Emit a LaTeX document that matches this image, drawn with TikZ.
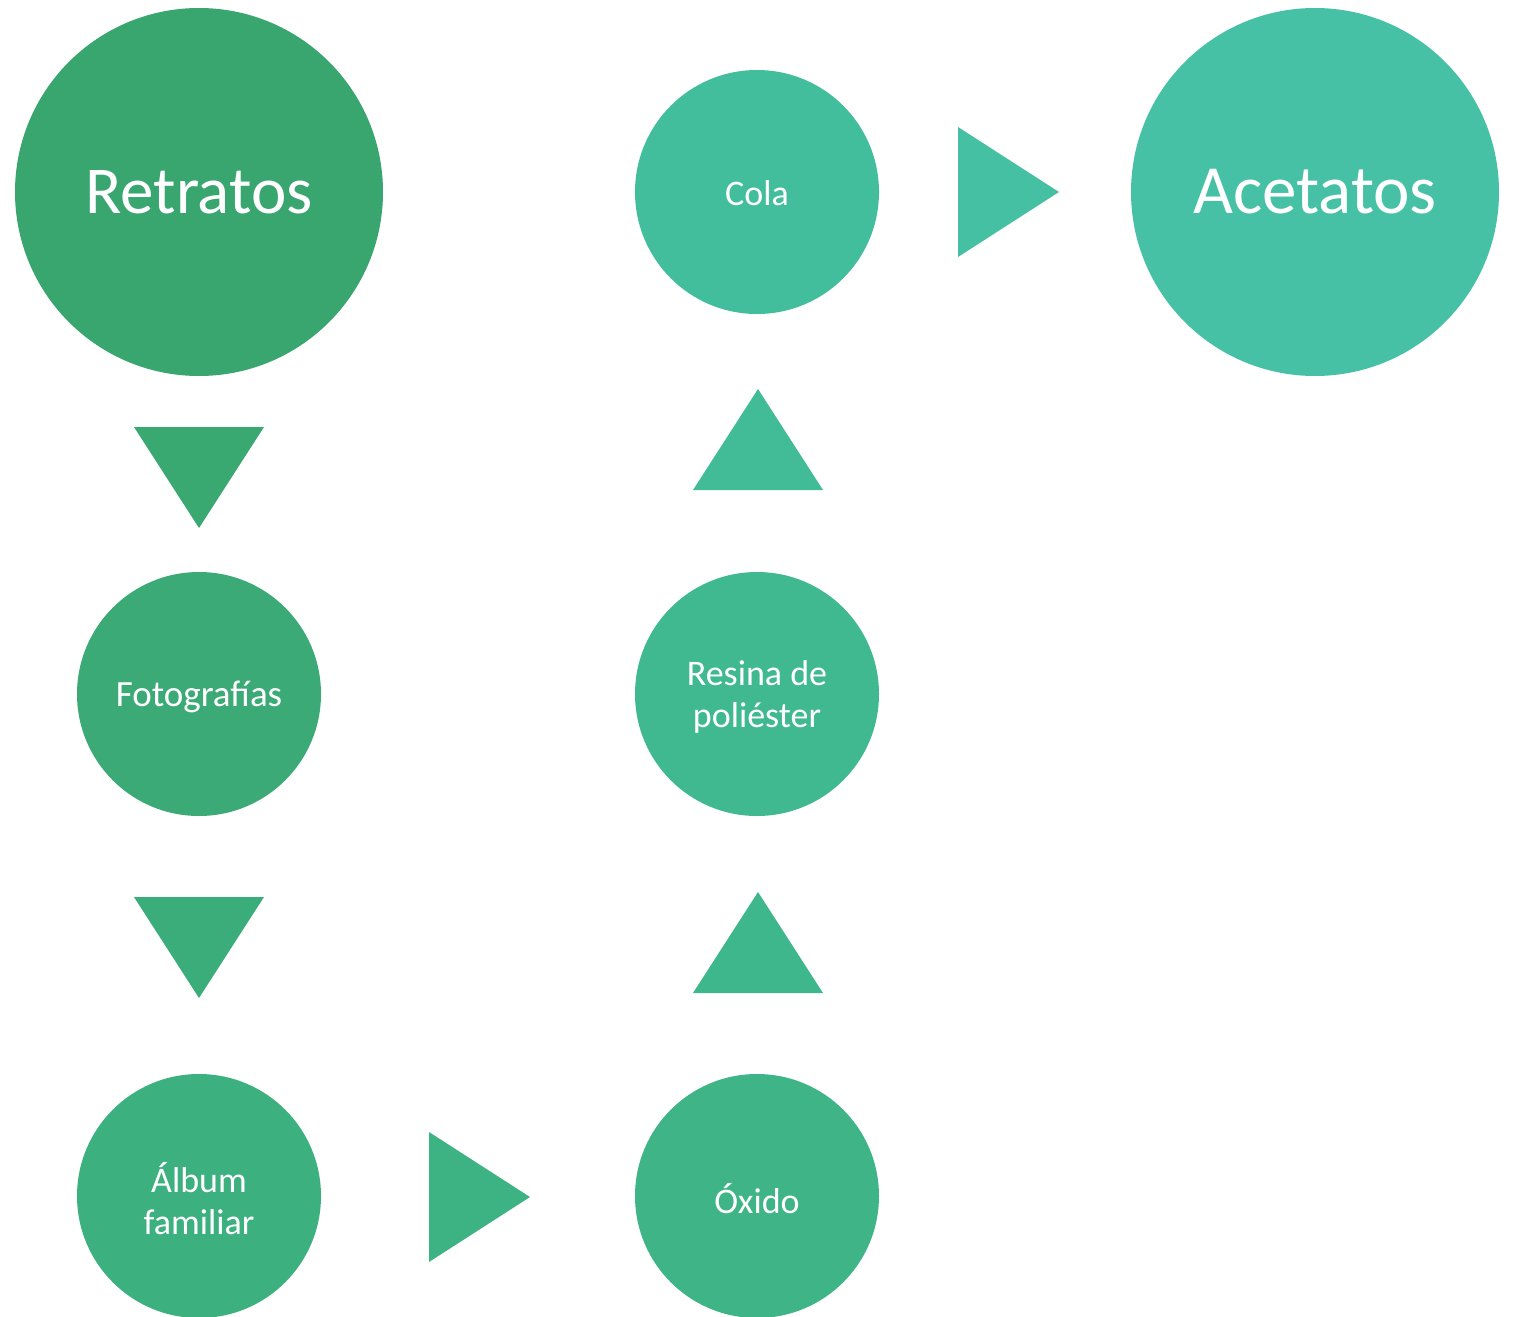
\documentclass[tikz,border=0pt]{standalone}
\usepackage{fontspec}
\setmainfont{Carlito}
\definecolor{c1}{HTML}{38A66E}
\definecolor{c2}{HTML}{3BAA76}
\definecolor{c3}{HTML}{3CB07F}
\definecolor{c4}{HTML}{3EB487}
\definecolor{c5}{HTML}{40B990}
\definecolor{c6}{HTML}{43BE9D}
\definecolor{c7}{HTML}{46C1A5}
\definecolor{t1}{HTML}{39A871}
\definecolor{t2}{HTML}{3BAD7A}
\definecolor{t3}{HTML}{3DB283}
\definecolor{t4}{HTML}{3FB78C}
\definecolor{t5}{HTML}{41BC96}
\definecolor{t6}{HTML}{45C0A2}
\tikzset{
  big/.style={circle, inner sep=0pt, minimum size=368pt, text=white, font=\fontsize{67}{80}\selectfont},
  small/.style={circle, inner sep=0pt, minimum size=244pt},
  stext/.style={text=white, align=center, inner sep=0pt, yshift=-3pt, font=\fontsize{36}{42}\selectfont},
}
\begin{document}
\begin{tikzpicture}[x=1pt,y=-1pt]
\useasboundingbox (0,0) rectangle (1513,1317);
\node[big, fill=c1] (ret) at (199,192) {Retratos};
\node[small, fill=c2, label={[stext, font=\fontsize{37}{42}\selectfont]center:Fotografías}] (fot) at (199,694) {};
\node[small, fill=c3, label={[stext]center:Álbum\\familiar}] (alb) at (199,1196) {};
\node[small, fill=c4, label={[stext]center:Óxido}] (oxi) at (757,1196) {};
\node[small, fill=c5, label={[stext]center:Resina de\\poliéster}] (res) at (757,694) {};
\node[small, fill=c6, label={[stext, yshift=2pt]center:Cola}] (col) at (757,192) {};
\node[big, fill=c7, font=\fontsize{69}{80}\selectfont] (ace) at (1315,192) {Acetatos};
% arrow triangles
\fill[t1] (134,427) -- (264,427) -- (199,528) -- cycle;
\fill[t2] (134,897) -- (264,897) -- (199,998) -- cycle;
\fill[t3] (429,1132) -- (429,1262) -- (530,1197) -- cycle;
\fill[t4] (693,993) -- (823,993) -- (758,892) -- cycle;
\fill[t5] (693,490) -- (823,490) -- (758,389) -- cycle;
\fill[t6] (958,127) -- (958,257) -- (1059,192) -- cycle;
\end{tikzpicture}
\end{document}
